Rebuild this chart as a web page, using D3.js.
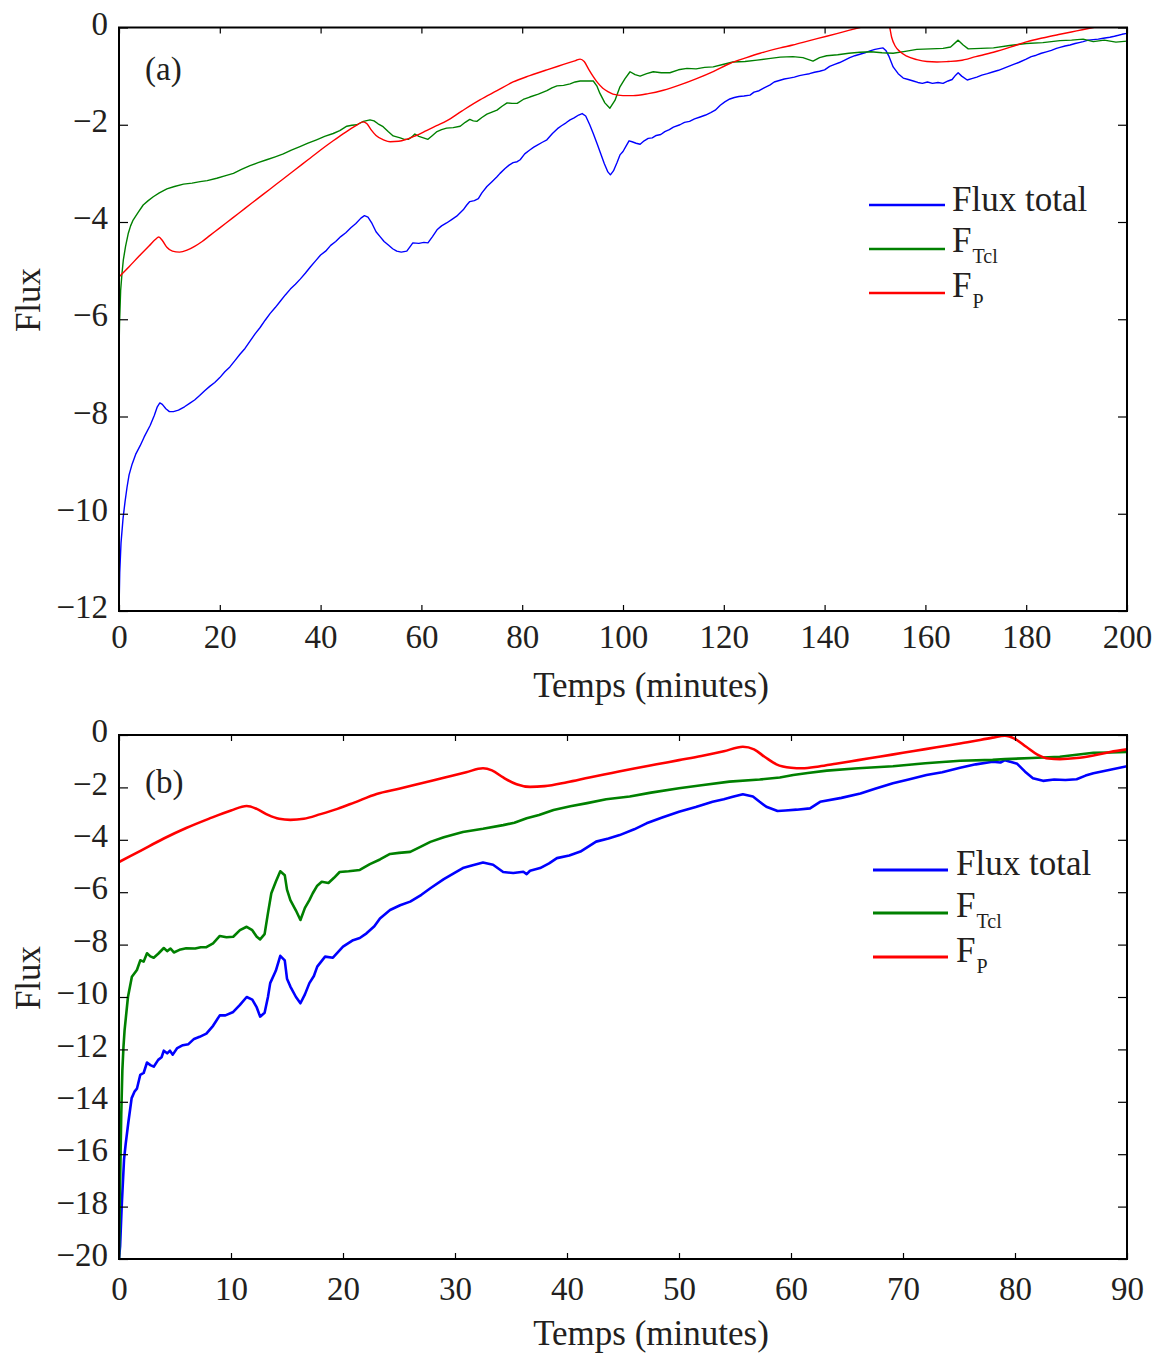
<!DOCTYPE html>
<html><head><meta charset="utf-8">
<script src="https://cdn.jsdelivr.net/npm/d3@7"></script>
<style>
body{margin:0;background:#fff}
text{font-family:"Liberation Serif","Times New Roman",serif;fill:#231f20}
</style>
</head><body>
<svg id="c" width="1167" height="1353"></svg>
<script>
// ---------- tick values ----------
const xTicksA = [0,20,40,60,80,100,120,140,160,180,200];
const yTicksA = [0,-2,-4,-6,-8,-10,-12];
const xTicksB = [0,10,20,30,40,50,60,70,80,90];
const yTicksB = [0,-2,-4,-6,-8,-10,-12,-14,-16,-18,-20];
const xLabel = "Temps (minutes)";
const yLabel = "Flux";
const legendNames = [["Flux total",""],["F","Tcl"],["F","P"]];
const colors = ["#0000ff","#008000","#ff0000"];

// ---------- panel (a) series: [minutes, flux] ----------
const aTotal = [[0,-12],[0.15,-11.2],[0.4,-10.6],[0.8,-10.1],[1.2,-9.75],[1.6,-9.45],[2,-9.2],[2.6,-8.98],[3.3,-8.78],[4.2,-8.6],[5,-8.42],[6.2,-8.18],[7,-7.98],[7.6,-7.8],[8.1,-7.72],[8.6,-7.75],[9.3,-7.84],[10,-7.9],[10.8,-7.9],[11.8,-7.87],[13,-7.8],[14,-7.73],[15,-7.66],[16,-7.57],[17,-7.47],[18,-7.38],[19,-7.3],[20,-7.2],[21,-7.08],[22,-6.98],[23,-6.85],[24,-6.72],[25,-6.6],[26,-6.45],[27,-6.3],[28,-6.17],[29,-6.02],[30,-5.88],[31,-5.76],[32,-5.63],[33,-5.5],[34,-5.38],[35,-5.28],[36,-5.17],[37,-5.05],[38,-4.92],[39,-4.8],[40,-4.68],[41,-4.6],[42,-4.48],[43,-4.4],[44,-4.3],[45,-4.22],[46,-4.12],[47,-4.03],[48,-3.92],[48.7,-3.87],[49.4,-3.9],[50.2,-4.03],[51,-4.2],[51.8,-4.3],[52.6,-4.4],[53.5,-4.48],[54.3,-4.55],[55.1,-4.6],[56,-4.62],[57.1,-4.6],[57.8,-4.5],[58.3,-4.43],[59.5,-4.44],[60.5,-4.42],[61.3,-4.43],[62.2,-4.3],[63.1,-4.16],[64,-4.08],[65,-4.02],[66,-3.95],[67,-3.88],[68.3,-3.75],[69,-3.65],[69.6,-3.58],[70.5,-3.56],[71.3,-3.52],[72,-3.4],[73,-3.27],[74,-3.17],[75,-3.07],[75.6,-3.0],[76.6,-2.9],[77.4,-2.83],[78.2,-2.78],[79,-2.76],[79.6,-2.72],[80.5,-2.6],[81.5,-2.52],[82.3,-2.46],[83,-2.42],[84,-2.36],[84.9,-2.31],[86,-2.18],[87,-2.08],[87.8,-2.02],[88.7,-1.96],[89.5,-1.9],[90.3,-1.86],[91.2,-1.8],[91.9,-1.77],[92.6,-1.82],[93.4,-2.0],[94.1,-2.18],[94.9,-2.4],[95.6,-2.6],[96.3,-2.8],[97,-2.97],[97.5,-3.03],[98.1,-2.95],[98.8,-2.78],[99.4,-2.62],[100,-2.55],[100.6,-2.44],[101.2,-2.33],[101.8,-2.35],[102.6,-2.38],[103.4,-2.4],[104.2,-2.33],[105,-2.28],[105.8,-2.27],[106.6,-2.22],[107.5,-2.2],[108.3,-2.14],[109.2,-2.1],[110,-2.05],[111.3,-2.0],[112.2,-1.95],[113.2,-1.93],[114.2,-1.88],[115.3,-1.84],[116.4,-1.8],[117.4,-1.75],[118.3,-1.7],[119.3,-1.6],[120.2,-1.53],[121.2,-1.47],[122.1,-1.44],[123,-1.42],[124,-1.41],[125.2,-1.39],[126,-1.33],[127,-1.3],[128,-1.24],[129.2,-1.18],[130,-1.12],[131,-1.09],[132,-1.06],[133,-1.04],[134,-1.02],[135,-0.99],[136,-0.97],[137,-0.95],[138,-0.92],[139,-0.9],[140,-0.87],[141,-0.8],[142,-0.76],[143,-0.72],[144,-0.67],[145,-0.62],[146,-0.58],[147,-0.55],[148,-0.52],[149,-0.48],[150,-0.45],[151,-0.43],[151.6,-0.42],[152.2,-0.48],[152.8,-0.6],[153.6,-0.81],[154.6,-0.95],[155.6,-1.04],[156.6,-1.07],[157.6,-1.1],[158.5,-1.13],[159.4,-1.15],[160.4,-1.12],[161.4,-1.15],[162.5,-1.13],[163.5,-1.15],[164.5,-1.1],[165.3,-1.07],[166,-0.98],[166.5,-0.93],[167.2,-1.0],[168.3,-1.08],[169.2,-1.05],[170.2,-1.02],[171.2,-0.98],[172.3,-0.95],[173.5,-0.91],[174.5,-0.88],[175.5,-0.84],[176.5,-0.8],[177.5,-0.76],[178.5,-0.72],[180,-0.65],[181,-0.6],[182,-0.57],[183,-0.53],[184,-0.5],[185,-0.47],[186,-0.43],[186.7,-0.41],[187.7,-0.38],[188.7,-0.36],[189.7,-0.33],[190.5,-0.31],[191.3,-0.29],[192.3,-0.26],[193.3,-0.25],[194.3,-0.24],[195.3,-0.22],[196.6,-0.2],[197.5,-0.18],[198.3,-0.16],[199,-0.14],[200,-0.12]];

const aTcl = [[0,-6.7],[0.1,-6.1],[0.33,-5.4],[0.6,-5.05],[0.86,-4.78],[1.3,-4.5],[1.85,-4.23],[2.3,-4.08],[2.8,-3.96],[3.8,-3.8],[4.8,-3.65],[5.8,-3.56],[6.8,-3.48],[8,-3.4],[9.5,-3.32],[11,-3.27],[12.8,-3.22],[14.5,-3.2],[16.1,-3.17],[17.5,-3.15],[19.4,-3.1],[21,-3.05],[22.7,-3.0],[24.3,-2.92],[26,-2.84],[27.6,-2.78],[29.3,-2.72],[31,-2.66],[32.6,-2.6],[34.2,-2.52],[35.9,-2.45],[37.5,-2.38],[39.2,-2.31],[40.8,-2.24],[42.5,-2.18],[43.8,-2.12],[45.2,-2.03],[46.2,-2.01],[47.2,-2.0],[48.5,-1.93],[49.8,-1.9],[50.6,-1.92],[51.4,-1.98],[52.4,-2.04],[53.4,-2.14],[54.4,-2.23],[55.1,-2.25],[55.8,-2.27],[56.6,-2.3],[57.4,-2.3],[58.1,-2.25],[58.7,-2.19],[59.5,-2.24],[60.4,-2.27],[61.3,-2.3],[62.2,-2.22],[63.1,-2.14],[64,-2.1],[65,-2.07],[66.3,-2.06],[67.7,-2.03],[68.7,-1.95],[69.6,-1.89],[70.3,-1.92],[71,-1.93],[72,-1.85],[73,-1.78],[74,-1.74],[75,-1.7],[76,-1.62],[77,-1.55],[78,-1.56],[79,-1.56],[80.2,-1.48],[81.5,-1.43],[83.2,-1.37],[84.9,-1.3],[85.9,-1.24],[86.9,-1.2],[88.2,-1.19],[89.5,-1.16],[90.5,-1.12],[91.5,-1.1],[92.8,-1.1],[94.1,-1.1],[94.8,-1.2],[95.4,-1.35],[96.4,-1.55],[97.4,-1.66],[98.4,-1.5],[99.4,-1.22],[100.4,-1.05],[101.4,-0.91],[102.4,-0.97],[103.4,-1.0],[104.7,-0.95],[106,-0.91],[107.6,-0.93],[109.3,-0.93],[111,-0.87],[112.7,-0.84],[114.5,-0.85],[116.2,-0.82],[117.9,-0.81],[119.8,-0.76],[121.8,-0.71],[124.2,-0.7],[126.6,-0.67],[128.9,-0.64],[131.2,-0.61],[133.7,-0.6],[135.7,-0.62],[137.7,-0.69],[139,-0.62],[140.4,-0.58],[142.6,-0.56],[144.8,-0.53],[147,-0.51],[149.2,-0.5],[151.4,-0.52],[153.6,-0.53],[156,-0.49],[158.3,-0.45],[161,-0.44],[163.5,-0.43],[165,-0.4],[166.5,-0.26],[167.5,-0.36],[168.5,-0.44],[171,-0.43],[173.5,-0.42],[176.7,-0.37],[180,-0.33],[183.3,-0.31],[186.7,-0.27],[189,-0.26],[191.3,-0.24],[193.3,-0.29],[195.5,-0.26],[197.8,-0.3],[200,-0.28]];

const aP = [[0,-5.13],[2,-4.92],[4,-4.7],[6,-4.49],[7.2,-4.36],[7.9,-4.31],[8.6,-4.38],[9.5,-4.52],[10.6,-4.6],[12,-4.62],[13.5,-4.58],[15,-4.5],[16.5,-4.4],[18,-4.28],[20,-4.12],[22.5,-3.92],[25,-3.72],[27.5,-3.52],[30,-3.32],[32.5,-3.12],[35,-2.92],[37.5,-2.72],[40,-2.52],[42.5,-2.33],[45,-2.15],[47,-2.02],[48.4,-1.94],[49.2,-1.98],[50,-2.1],[51,-2.22],[52.5,-2.31],[53.8,-2.35],[55.5,-2.34],[57,-2.3],[58.5,-2.24],[61,-2.12],[63,-2.02],[65,-1.92],[68,-1.72],[71.6,-1.49],[75,-1.3],[78.2,-1.12],[81.5,-0.99],[84.9,-0.87],[88.2,-0.76],[90.6,-0.68],[91.5,-0.65],[92.3,-0.7],[93.2,-0.86],[94.1,-1.01],[95,-1.14],[96,-1.25],[97,-1.32],[98,-1.37],[100,-1.4],[102,-1.4],[105,-1.36],[108,-1.29],[111.3,-1.18],[114.6,-1.05],[118,-0.9],[121.2,-0.74],[124.5,-0.62],[127.2,-0.53],[131.2,-0.42],[133.7,-0.36],[137,-0.27],[140.4,-0.18],[143.7,-0.09],[147,0],[150,0.08],[152.2,0.13],[152.8,0.05],[153.3,-0.2],[154,-0.38],[155,-0.5],[156.3,-0.59],[158.3,-0.66],[160.3,-0.7],[162.3,-0.71],[164.5,-0.7],[166.9,-0.68],[170,-0.6],[173.5,-0.51],[177,-0.4],[180.2,-0.29],[183.5,-0.21],[186.7,-0.14],[190,-0.07],[193.3,0],[196.5,0.07],[200,0.15]];

// ---------- panel (b) series ----------
const bTotal = [[0,-20],[0.1,-19.5],[0.24,-18.0],[0.45,-16.2],[0.6,-15.6],[0.83,-14.8],[1.13,-13.86],[1.4,-13.6],[1.6,-13.5],[1.9,-12.97],[2.2,-12.9],[2.5,-12.5],[2.8,-12.6],[3.1,-12.66],[3.5,-12.4],[3.8,-12.3],[4.0,-12.05],[4.3,-12.15],[4.55,-12.05],[4.8,-12.2],[5.2,-11.95],[5.7,-11.84],[6.2,-11.8],[6.7,-11.6],[7.2,-11.52],[7.8,-11.4],[8.4,-11.1],[9,-10.7],[9.5,-10.7],[10.2,-10.57],[10.8,-10.3],[11.4,-10.0],[11.9,-10.1],[12.3,-10.4],[12.6,-10.75],[13,-10.6],[13.3,-10.0],[13.5,-9.47],[14,-9.0],[14.4,-8.43],[14.8,-8.6],[15,-9.3],[15.3,-9.6],[15.8,-10.0],[16.2,-10.24],[16.6,-9.9],[17,-9.47],[17.4,-9.2],[17.7,-8.84],[18.4,-8.46],[19.1,-8.5],[20,-8.08],[20.9,-7.83],[21.5,-7.75],[22.1,-7.57],[22.8,-7.3],[23.3,-7.0],[24.2,-6.68],[25.1,-6.5],[26,-6.36],[27,-6.1],[27.8,-5.85],[29,-5.5],[30,-5.25],[30.7,-5.08],[31.5,-4.98],[32.5,-4.87],[33.4,-4.95],[34.3,-5.23],[35.2,-5.27],[36.1,-5.22],[36.4,-5.31],[36.7,-5.18],[37.6,-5.08],[38.4,-4.9],[39.1,-4.7],[40.2,-4.6],[41.2,-4.45],[42.6,-4.07],[43.7,-3.95],[44.7,-3.82],[46,-3.6],[47.1,-3.37],[48.5,-3.15],[50,-2.93],[51.5,-2.75],[53,-2.55],[54,-2.45],[54.8,-2.36],[55.7,-2.26],[56.6,-2.35],[57.2,-2.55],[57.8,-2.74],[58.8,-2.9],[59.5,-2.88],[60.5,-2.85],[61.7,-2.8],[62.6,-2.55],[64.5,-2.4],[66.2,-2.23],[67.5,-2.05],[69.1,-1.84],[70.5,-1.7],[72.1,-1.53],[73.5,-1.42],[75.1,-1.25],[76.5,-1.12],[78,-1.02],[78.7,-1.05],[79.1,-0.96],[80.2,-1.1],[80.9,-1.4],[81.6,-1.65],[82.5,-1.75],[83.5,-1.7],[84.5,-1.72],[85.5,-1.69],[86.3,-1.55],[87,-1.46],[88.5,-1.33],[90,-1.19]];

const bTcl = [[0,-20],[0.1,-17],[0.2,-14.5],[0.3,-12.8],[0.4,-11.9],[0.5,-11.26],[0.8,-10.0],[1.15,-9.23],[1.6,-8.97],[1.9,-8.6],[2.2,-8.65],[2.5,-8.33],[2.8,-8.45],[3.1,-8.5],[3.5,-8.35],[4.0,-8.13],[4.3,-8.25],[4.6,-8.15],[4.9,-8.3],[5.4,-8.2],[6,-8.14],[6.8,-8.15],[7.3,-8.1],[7.8,-8.1],[8.4,-7.95],[9,-7.67],[9.6,-7.72],[10.2,-7.7],[10.8,-7.45],[11.4,-7.32],[11.9,-7.45],[12.3,-7.7],[12.6,-7.8],[13.0,-7.6],[13.3,-6.8],[13.6,-6.04],[14.0,-5.6],[14.4,-5.2],[14.8,-5.35],[15.0,-5.9],[15.3,-6.3],[15.8,-6.7],[16.2,-7.06],[16.6,-6.6],[17.0,-6.3],[17.3,-6.04],[17.7,-5.75],[18.1,-5.6],[18.7,-5.65],[19.2,-5.45],[19.7,-5.23],[20.5,-5.2],[21.5,-5.15],[22.4,-4.93],[23.3,-4.75],[24.2,-4.54],[25,-4.5],[26,-4.46],[27,-4.25],[27.8,-4.08],[29,-3.9],[30.7,-3.7],[32.5,-3.58],[34.3,-3.44],[35.3,-3.35],[36.4,-3.18],[37.5,-3.05],[38.8,-2.86],[40.3,-2.72],[41.8,-2.6],[43.5,-2.45],[45.6,-2.35],[47.5,-2.2],[50,-2.03],[52,-1.92],[54.5,-1.78],[57.2,-1.7],[59,-1.62],[60.2,-1.53],[61.5,-1.45],[63.2,-1.36],[66,-1.27],[69.1,-1.19],[72,-1.08],[75.1,-0.98],[78,-0.95],[79.1,-0.92],[81.5,-0.88],[84,-0.83],[87,-0.68],[88.5,-0.67],[90,-0.65]];

const bP = [[0,-4.85],[2,-4.4],[4,-3.95],[6,-3.55],[8,-3.2],[10,-2.88],[11.4,-2.71],[12.3,-2.82],[13.3,-3.05],[14.3,-3.2],[15.3,-3.24],[16.5,-3.2],[18,-3.02],[19.5,-2.82],[21,-2.58],[23,-2.25],[25,-2.05],[27,-1.84],[29,-1.63],[31,-1.42],[32.5,-1.27],[33.3,-1.35],[34.3,-1.62],[35.5,-1.88],[36.7,-1.98],[38,-1.95],[40,-1.8],[42,-1.62],[44,-1.45],[46,-1.28],[48,-1.12],[50,-0.96],[52,-0.8],[54,-0.62],[55.7,-0.45],[56.7,-0.55],[57.7,-0.85],[58.7,-1.12],[60,-1.25],[61,-1.27],[62.5,-1.2],[64,-1.1],[66,-0.96],[68,-0.82],[70,-0.68],[72,-0.54],[74,-0.4],[76,-0.26],[78,-0.1],[79.1,-0.03],[80,-0.15],[81,-0.45],[82,-0.75],[83,-0.9],[84,-0.92],[85.5,-0.88],[87,-0.78],[88.5,-0.65],[90,-0.55]];

// ---------- drawing ----------
const svg = d3.select("#c");
const L = 119, R = 1127;

function drawPanel(p) {
  const x = d3.scaleLinear().domain([0, p.xMax]).range([L, R]);
  const y = d3.scaleLinear().domain([p.yMin, 0]).range([p.bottom, p.top]);
  const g = svg.append("g");

  const clipId = "clip" + p.id;
  svg.append("clipPath").attr("id", clipId).append("rect")
    .attr("x", L).attr("y", p.top).attr("width", R - L).attr("height", p.bottom - p.top);

  p.series.forEach((s, i) => {
    const line = d3.line().x(d => x(d[0])).y(d => y(d[1]))
      .curve(i === 2 ? d3.curveMonotoneX : d3.curveLinear);
    g.append("path").datum(s).attr("clip-path", `url(#${clipId})`)
      .attr("fill", "none").attr("stroke", colors[i]).attr("stroke-width", p.lw)
      .attr("stroke-linejoin", "round").attr("d", line);
  });

  function styleAxis(sel) {
    sel.attr("font-family", null).attr("font-size", null);
    sel.select(".domain").remove();
    sel.selectAll(".tick line").attr("stroke", "#000").attr("stroke-width", 1.2);
    sel.selectAll("text").style("font-size", "33px").attr("fill", "#231f20");
  }
  const fmt = d3.format("d");
  g.append("g").attr("transform", `translate(0,${p.bottom})`)
    .call(d3.axisBottom(x).tickValues(p.xTicks).tickFormat(fmt).tickSize(-6).tickPadding(p.xPad))
    .call(styleAxis);
  g.append("g").attr("transform", `translate(0,${p.top})`)
    .call(d3.axisTop(x).tickValues(p.xTicks).tickFormat("").tickSize(-6))
    .call(styleAxis);
  const yl = g.append("g").attr("transform", `translate(${L},0)`)
    .call(d3.axisLeft(y).tickValues(p.yTicks).tickFormat(fmt).tickSize(-9).tickPadding(11))
    .call(styleAxis);
  yl.selectAll("text").attr("dy", "0.2em");
  g.append("g").attr("transform", `translate(${R},0)`)
    .call(d3.axisRight(y).tickValues(p.yTicks).tickFormat("").tickSize(-9))
    .call(styleAxis);

  g.append("rect").attr("x", L).attr("y", p.top).attr("width", R - L).attr("height", p.bottom - p.top)
    .attr("fill", "none").attr("stroke", "#000").attr("stroke-width", 2);

  g.append("text").attr("x", 651).attr("y", p.bottom + 86).attr("text-anchor", "middle")
    .style("font-size", "35px").text(xLabel);
  g.append("text").attr("transform", `translate(40,${p.yLabelY}) rotate(-90)`)
    .attr("text-anchor", "middle").style("font-size", "35px").text(yLabel);
  g.append("text").attr("x", 145).attr("y", p.tagY).style("font-size", "33px").text(p.tag);

  // legend
  legendNames.forEach((nm, i) => {
    g.append("line").attr("x1", p.leg.x1).attr("x2", p.leg.x2)
      .attr("y1", p.leg.lineY[i]).attr("y2", p.leg.lineY[i])
      .attr("stroke", colors[i]).attr("stroke-width", p.leg.lw);
    const t = g.append("text").attr("x", p.leg.tx).attr("y", p.leg.textY[i]).style("font-size", "35px");
    t.append("tspan").text(nm[0]);
    if (nm[1]) t.append("tspan").attr("dy", 11).attr("dx", 1).style("font-size", "20px").text(nm[1]);
  });
}

drawPanel({
  id: "a", xMax: 200, yMin: -12, top: 27.5, bottom: 611,
  xTicks: xTicksA, yTicks: yTicksA, xPad: 14, lw: 1.4,
  series: [aTotal, aTcl, aP], tag: "(a)", tagY: 80, yLabelY: 300,
  leg: { x1: 869, x2: 945, lineY: [205, 249, 293], tx: 952, textY: [211, 252, 297], lw: 2.6 }
});
drawPanel({
  id: "b", xMax: 90, yMin: -20, top: 735, bottom: 1259,
  xTicks: xTicksB, yTicks: yTicksB, xPad: 18, lw: 2.6,
  series: [bTotal, bTcl, bP], tag: "(b)", tagY: 793, yLabelY: 978,
  leg: { x1: 873, x2: 948, lineY: [870, 913, 957], tx: 956, textY: [875, 917, 962], lw: 2.8 }
});
</script>
</body></html>
